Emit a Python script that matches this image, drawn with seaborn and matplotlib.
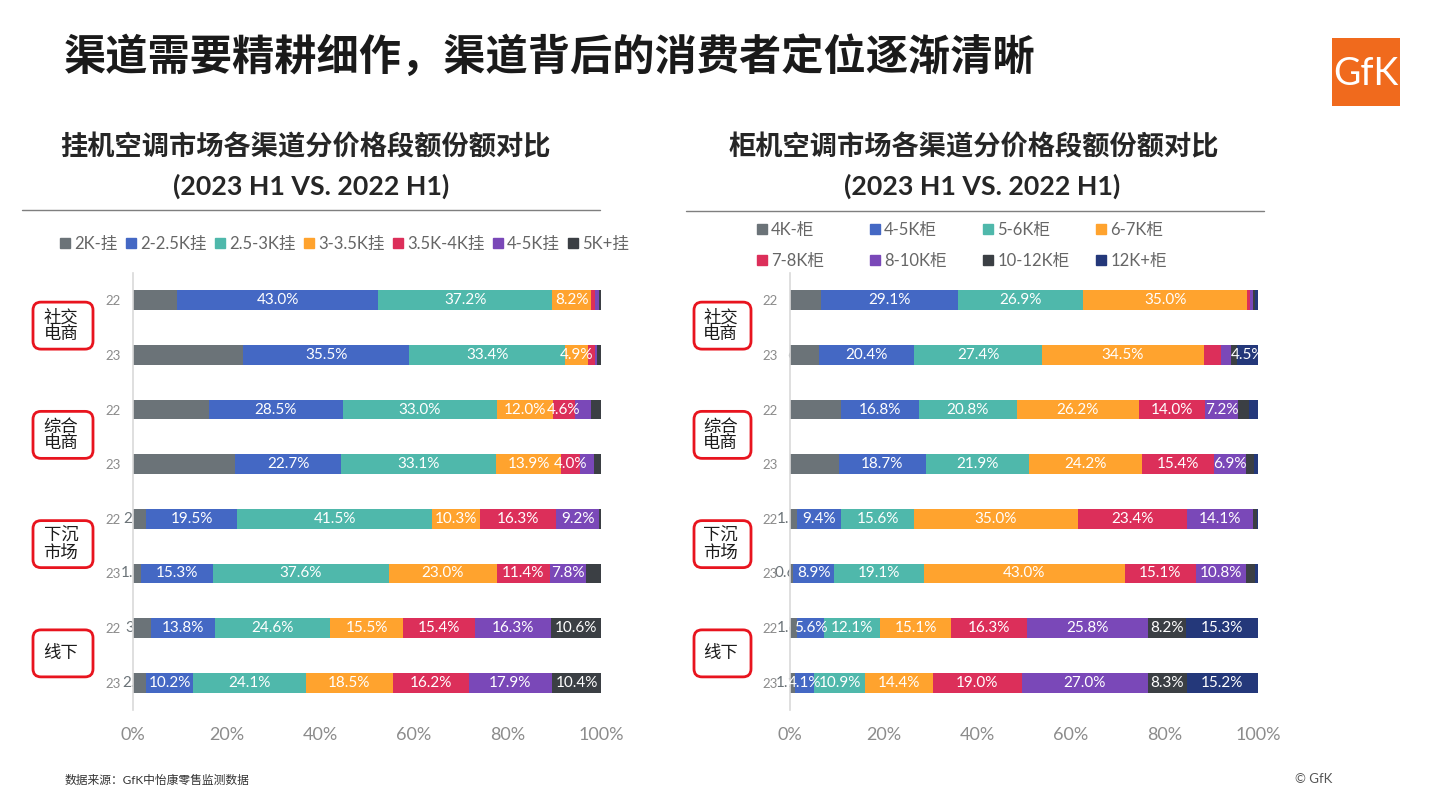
import numpy as np
import pandas as pd
import matplotlib
matplotlib.use("Agg")
import matplotlib.pyplot as plt
import seaborn as sns
from matplotlib.lines import Line2D
from matplotlib.patches import FancyBboxPatch, Rectangle
from matplotlib.transforms import IdentityTransform

sns.set_theme(style="white")
plt.rcParams["font.family"] = ["Lato", "Noto Sans CJK SC", "DejaVu Sans"]

# ─── Data (shares in %, rows: channel x year) ────────────────────────────────
CHANNELS = ["社交\n电商", "综合\n电商", "下沉\n市场", "线下"]
YEARS    = ["22", "23"]
ROW_KEYS = [f"{c.replace(chr(10), '')}-{y}" for c in CHANNELS for y in YEARS]

WALL_NAMES = ["2K-挂", "2-2.5K挂", "2.5-3K挂", "3-3.5K挂", "3.5K-4K挂", "4-5K挂", "5K+挂"]
wall_2k     = [9.4, 23.5, 16.3, 21.8,  2.8,  1.8,  3.8,  2.7]
wall_2_25k  = [43.0, 35.5, 28.5, 22.7, 19.5, 15.3, 13.8, 10.2]
wall_25_3k  = [37.2, 33.4, 33.0, 33.1, 41.5, 37.6, 24.6, 24.1]
wall_3_35k  = [8.2,  4.9, 12.0, 13.9, 10.3, 23.0, 15.5, 18.5]
wall_35_4k  = [1.0,  1.5,  4.6,  4.0, 16.3, 11.4, 15.4, 16.2]
wall_4_5k   = [0.7,  0.3,  3.4,  3.0,  9.2,  7.8, 16.3, 17.9]
wall_5k     = [0.5,  0.9,  2.2,  1.5,  0.4,  3.1, 10.6, 10.4]

CAB_NAMES = ["4K-柜", "4-5K柜", "5-6K柜", "6-7K柜", "7-8K柜", "8-10K柜", "10-12K柜", "12K+柜"]
cab_4k      = [6.7,  6.1, 10.8, 10.4,  1.5,  0.6,  1.6,  1.1]
cab_4_5k    = [29.1, 20.4, 16.8, 18.7,  9.4,  8.9,  5.6,  4.1]
cab_5_6k    = [26.9, 27.4, 20.8, 21.9, 15.6, 19.1, 12.1, 10.9]
cab_6_7k    = [35.0, 34.5, 26.2, 24.2, 35.0, 43.0, 15.1, 14.4]
cab_7_8k    = [0.5,  3.7, 14.0, 15.4, 23.4, 15.1, 16.3, 19.0]
cab_8_10k   = [0.7,  2.1,  7.2,  6.9, 14.1, 10.8, 25.8, 27.0]
cab_10_12k  = [0.5,  1.3,  2.2,  1.6,  0.7,  1.8,  8.2,  8.3]
cab_12k     = [0.6,  4.5,  2.0,  0.9,  0.3,  0.7, 15.3, 15.2]

X_TICKS = [0, 0.2, 0.4, 0.6, 0.8, 1.0]

# ─── Style ───────────────────────────────────────────────────────────────────
WALL_COLORS = ["#6b7378", "#4468c4", "#4fb8ab", "#ffa32e", "#dc2f5a", "#7a48b8", "#3b3f44"]
CAB_COLORS  = ["#6b7378", "#4468c4", "#4fb8ab", "#ffa32e", "#dc2f5a", "#7a48b8", "#3b3f44", "#24387a"]
W, H = 1441, 810


def fx(px):
    return px / W


def fy(py):
    return 1 - py / H


def draw_panel(ax, series, names, colors):
    df = pd.DataFrame(dict(zip(names, series)), index=ROW_KEYS)
    cum = df.cumsum(axis=1) / 100
    # overlay cumulative bars, longest first -> stacked look
    for name, color in reversed(list(zip(names, colors))):
        tmp = pd.DataFrame({"row": ROW_KEYS, "cum": cum[name].values})
        sns.barplot(data=tmp, x="cum", y="row", order=ROW_KEYS, orient="h",
                    color=color, width=0.36, saturation=1, errorbar=None,
                    linewidth=0, ax=ax)

    starts = cum.shift(1, axis=1).fillna(0)
    for j, name in enumerate(names):
        for i, key in enumerate(ROW_KEYS):
            v = df.loc[key, name]
            cx = starts.loc[key, name] + v / 200
            if j == 0:
                # first-segment labels sit under the bars in bar colour
                ax.text(cx, i, f"{v:.1f}%", ha="center", va="center", fontsize=11,
                        color=colors[0], zorder=0.5, clip_on=False)
            elif v >= 4:
                ax.text(cx, i, f"{v:.1f}%", ha="center", va="center", fontsize=11,
                        color="white", zorder=3)

    ax.set_xlim(0, 1)
    ax.set_ylim(len(ROW_KEYS) - 0.5, -0.5)
    ax.set_xticks(X_TICKS)
    ax.set_xticklabels([f"{int(t * 100)}%" for t in X_TICKS], fontsize=13, color="#8c8c8c")
    ax.set_yticks(range(len(ROW_KEYS)))
    ax.set_yticklabels(YEARS * len(CHANNELS), fontsize=9.5, color="#8c8c8c")
    ax.tick_params(axis="x", length=0, pad=12)
    ax.tick_params(axis="y", length=0, pad=9)
    ax.set_xlabel(""); ax.set_ylabel("")
    for s in ["top", "right", "bottom"]:
        ax.spines[s].set_visible(False)
    ax.spines["left"].set_color("#d9d9d9")
    ax.spines["left"].set_linewidth(1.2)


def channel_boxes(fig, ax, box_x, box_w):
    for g, label in enumerate(CHANNELS):
        yc = ax.transData.transform((0, 2 * g + 0.5))[1] + 2
        bh = 47
        box = FancyBboxPatch((box_x, yc - bh / 2), box_w, bh,
                             boxstyle="round,pad=0,rounding_size=8",
                             transform=IdentityTransform(), facecolor="none",
                             edgecolor="#e8141e", linewidth=2)
        fig.patches.append(box)
        fig.text((box_x + box_w / 2 - 2) / W, yc / H, label, ha="center", va="center",
                 fontsize=12.5, color="#1a1a1a", linespacing=1.05, multialignment="left")


fig = plt.figure(figsize=(W / 100, H / 100), dpi=100)
fig.patch.set_facecolor("white")

ax_l = fig.add_axes([fx(133), fy(710), fx(468), 437 / H])
ax_r = fig.add_axes([fx(790), fy(710), fx(468), 437 / H])

draw_panel(ax_l, [wall_2k, wall_2_25k, wall_25_3k, wall_3_35k, wall_35_4k, wall_4_5k, wall_5k],
           WALL_NAMES, WALL_COLORS)
draw_panel(ax_r, [cab_4k, cab_4_5k, cab_5_6k, cab_6_7k, cab_7_8k, cab_8_10k, cab_10_12k, cab_12k],
           CAB_NAMES, CAB_COLORS)

channel_boxes(fig, ax_l, 33, 60)
channel_boxes(fig, ax_r, 694, 57)

# ─── Titles ──────────────────────────────────────────────────────────────────
fig.text(fx(64), fy(58), "渠道需要精耕细作，渠道背后的消费者定位逐渐清晰", ha="left", va="center",
         fontsize=30.4, fontweight="bold", color="#1a1a1a", family=["Noto Sans CJK SC"])
fig.text(fx(305), fy(146), "挂机空调市场各渠道分价格段额份额对比", ha="center", va="center",
         fontsize=19.6, fontweight="bold", color="#262626")
fig.text(fx(311), fy(186), "(2023 H1 VS. 2022 H1)", ha="center", va="center",
         fontsize=19.3, fontweight="bold", color="#262626")
fig.text(fx(974), fy(146), "柜机空调市场各渠道分价格段额份额对比", ha="center", va="center",
         fontsize=19.6, fontweight="bold", color="#262626")
fig.text(fx(982), fy(186), "(2023 H1 VS. 2022 H1)", ha="center", va="center",
         fontsize=19.3, fontweight="bold", color="#262626")
fig.add_artist(Line2D([fx(22), fx(600)], [fy(210), fy(210)], color="#7f7f7f", lw=1))
fig.add_artist(Line2D([fx(686), fx(1264)], [fy(211), fy(211)], color="#7f7f7f", lw=1))

# ─── Legends ─────────────────────────────────────────────────────────────────
def handle(c):
    return Line2D([], [], marker="s", color=c, linestyle="None", markersize=7)

fig.legend([handle(c) for c in WALL_COLORS], WALL_NAMES, loc="center left",
           bbox_to_anchor=(fx(60), fy(244)), ncol=7, frameon=False, fontsize=12,
           labelcolor="#666666", handlelength=0.6, handletextpad=0.25,
           columnspacing=0.5, borderaxespad=0, borderpad=0)
for k in range(4):
    idx = [k, k + 4]
    fig.legend([handle(CAB_COLORS[i]) for i in idx], [CAB_NAMES[i] for i in idx],
               loc="upper left", bbox_to_anchor=(fx(757 + 113 * k), fy(222)), ncol=1,
               frameon=False, fontsize=12, labelcolor="#666666", handlelength=0.6,
               handletextpad=0.25, labelspacing=0.9, borderaxespad=0, borderpad=0)

# ─── Logo & footnotes ────────────────────────────────────────────────────────
fig.patches.append(Rectangle((fx(1332), fy(106)), fx(68), 68 / H, transform=fig.transFigure,
                             facecolor="#f06a1d", edgecolor="none"))
fig.text(fx(1366), fy(74), "GfK", ha="center", va="center", fontsize=27, color="white",
         family=["Lato"])
fig.text(fx(65), fy(780), "数据来源：GfK中怡康零售监测数据", ha="left", va="center",
         fontsize=8.5, color="#333333")
fig.text(fx(1295), fy(779), "© GfK", ha="left", va="center", fontsize=9.5, color="#555555")

fig.savefig("out.png", dpi=100)
